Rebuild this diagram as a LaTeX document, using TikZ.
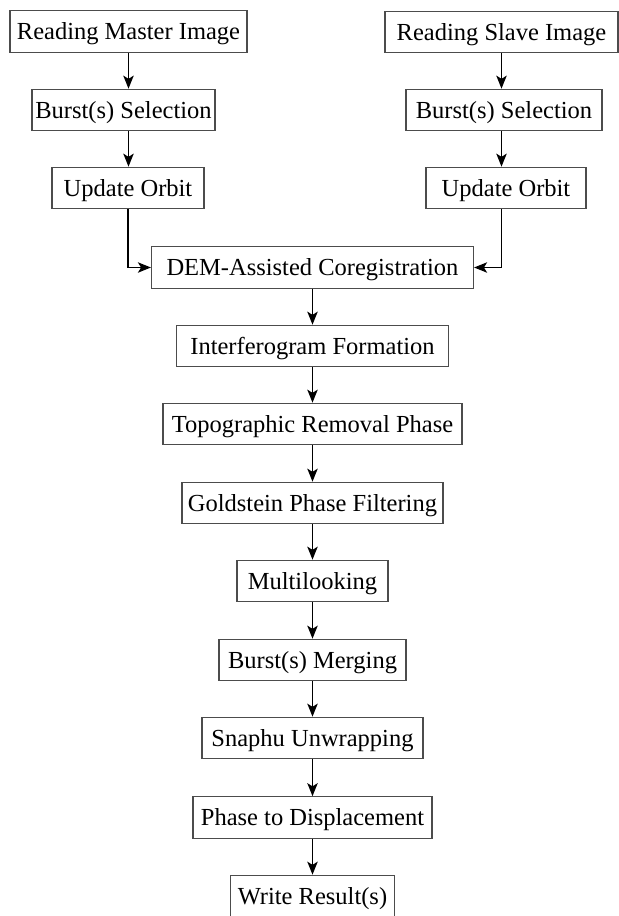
\documentclass[tikz,border=0pt]{standalone}
\usepackage{fontspec}
\setmainfont{Liberation Serif}
\usetikzlibrary{arrows.meta}
\tikzset{
  every node/.style={font=\fontsize{12.25}{14}\selectfont, text=black},
  stepbox/.style={draw=black!70, line width=0.6pt, fill=white, inner sep=0pt,
    minimum height=20.75pt, text height=8.1pt, text depth=0pt},
  flow/.style={-{Stealth[length=6.5pt,width=5.2pt,inset=1.6pt]}, draw=black, line width=0.75pt},
}

\begin{document}
\begin{tikzpicture}[x=0.5pt,y=-0.5pt]
  \useasboundingbox (0,0) rectangle (619,916);
  % Master branch
  \node[stepbox, minimum width=118.5pt] (rdMaster)  at (128.5,31.5) {Reading Master Image};
  \node[stepbox, minimum width=91.5pt]  (selMaster) at (123.5,110)  {Burst(s) Selection};
  \node[stepbox, minimum width=76pt]    (orbMaster) at (128,188)    {Update Orbit};
  % Slave branch
  \node[stepbox, minimum width=116.5pt] (rdSlave)  at (501.5,32) {Reading Slave Image};
  \node[stepbox, minimum width=98pt]    (selSlave) at (504,110)  {Burst(s) Selection};
  \node[stepbox, minimum width=80pt]    (orbSlave) at (506,188)  {Update Orbit};
  % Common chain
  \node[stepbox, minimum width=161pt]   (coreg)  at (312.5,267.5) {DEM-Assisted Coregistration};
  \node[stepbox, minimum width=136pt]   (ifg)    at (312.5,346)   {Interferogram Formation};
  \node[stepbox, minimum width=149.5pt] (topo)   at (312.5,424)   {Topographic Removal Phase};
  \node[stepbox, minimum width=130.5pt] (gold)   at (312.5,503)   {Goldstein Phase Filtering};
  \node[stepbox, minimum width=75.5pt]  (mlook)  at (312.5,581)   {Multilooking};
  \node[stepbox, minimum width=93.5pt]  (merge)  at (312.5,660)   {Burst(s) Merging};
  \node[stepbox, minimum width=110.5pt] (unwrap) at (312.5,738)   {Snaphu Unwrapping};
  \node[stepbox, minimum width=119.5pt] (disp)   at (312.5,817.5) {Phase to Displacement};
  \node[stepbox, minimum width=82pt]    (write)  at (312.5,896)   {Write Result(s)};

  % Arrows down each branch
  \draw[flow] (rdMaster.south) -- (rdMaster.south |- selMaster.north);
  \draw[flow] (rdMaster.south |- selMaster.south) -- (rdMaster.south |- orbMaster.north);
  \draw[flow] (rdSlave.south) -- (rdSlave.south |- selSlave.north);
  \draw[flow] (rdSlave.south |- selSlave.south) -- (rdSlave.south |- orbSlave.north);
  % Branches join at coregistration
  \draw[flow] (orbMaster.south) |- (coreg.west);
  \draw[flow] (rdSlave.south |- orbSlave.south) |- (coreg.east);
  % Main chain
  \foreach \a/\b in {coreg/ifg, ifg/topo, topo/gold, gold/mlook, mlook/merge,
                     merge/unwrap, unwrap/disp, disp/write}
    \draw[flow] (\a.south) -- (\b.north);
\end{tikzpicture}
\end{document}
